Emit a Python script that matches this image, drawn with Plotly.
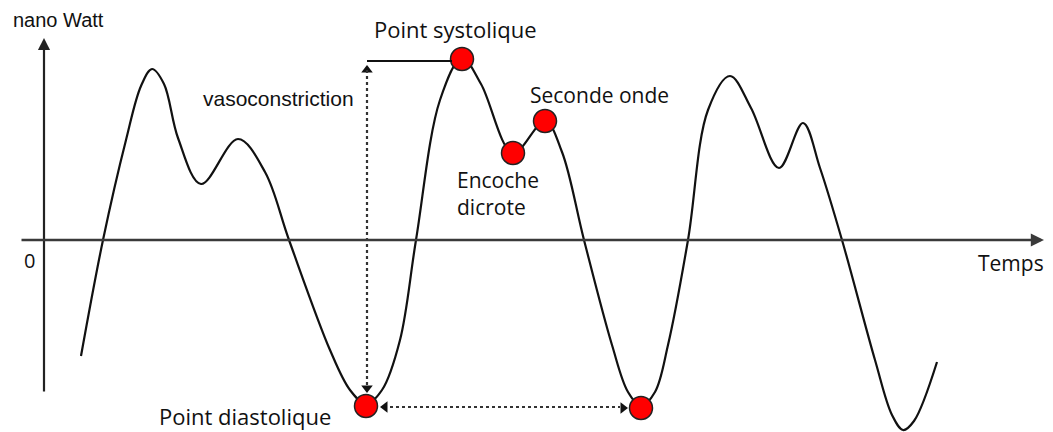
import plotly.graph_objects as go

# Waveform (pixel-like units: x right, y down)
wave_x = [81, 103, 126, 141, 152, 164, 178, 201, 238, 265, 289, 330, 350, 366, 382, 400, 416, 440, 462,
          481, 513, 545, 562, 584, 612, 628, 641, 655, 668, 688, 708, 730, 751, 779, 803, 820, 842,
          875, 892, 903, 914, 937]
wave_y = [356, 240, 140, 86, 69, 84, 138, 184, 139, 172, 240, 350, 390, 404, 390, 340, 240, 100, 58,
          84, 153, 121, 152, 240, 345, 392, 406, 392, 345, 240, 110, 76, 108, 168, 123, 168, 240,
          360, 415, 430, 421, 362]

# Key points (red dots)
pts_x = [462, 513, 545, 366, 641]
pts_y = [59, 153, 121, 406, 408]

fig = go.Figure()

fig.add_trace(go.Scatter(x=wave_x, y=wave_y, mode="lines",
                         line=dict(color="#111111", width=2.2, shape="spline", smoothing=1.0),
                         hoverinfo="skip", showlegend=False))

# dotted measurement lines
fig.add_shape(type="line", x0=367, y0=70, x1=367, y1=386, line=dict(color="#333333", width=2.2, dash="dot"))
fig.add_shape(type="line", x0=390, y0=407, x1=620, y1=407, line=dict(color="#333333", width=2.2, dash="dot"))
# solid horizontal from systolic level
fig.add_shape(type="line", x0=367, y0=61, x1=452, y1=61, line=dict(color="#111111", width=2.2))

# arrowheads for dotted arrows
fig.add_trace(go.Scatter(x=[367], y=[70], mode="markers", marker=dict(symbol="triangle-up", size=10, color="#111111"),
                         hoverinfo="skip", showlegend=False))
fig.add_trace(go.Scatter(x=[367], y=[388], mode="markers", marker=dict(symbol="triangle-down", size=10, color="#111111"),
                         hoverinfo="skip", showlegend=False))
fig.add_trace(go.Scatter(x=[385], y=[407], mode="markers", marker=dict(symbol="triangle-left", size=10, color="#111111"),
                         hoverinfo="skip", showlegend=False))
fig.add_trace(go.Scatter(x=[623], y=[408], mode="markers", marker=dict(symbol="triangle-right", size=10, color="#111111"),
                         hoverinfo="skip", showlegend=False))

# red dots
fig.add_trace(go.Scatter(x=pts_x, y=pts_y, mode="markers",
                         marker=dict(size=23, color="#ff0000", line=dict(color="#222222", width=1.5)),
                         hoverinfo="skip", showlegend=False))

# axes with arrows
fig.add_annotation(x=44, y=38, ax=44, ay=393, xref="x", yref="y", axref="x", ayref="y", text="",
                   showarrow=True, arrowhead=2, arrowsize=1.1, arrowwidth=2.2, arrowcolor="#222222")
fig.add_annotation(x=1044, y=240, ax=20, ay=240, xref="x", yref="y", axref="x", ayref="y", text="",
                   showarrow=True, arrowhead=2, arrowsize=1.1, arrowwidth=2.4, arrowcolor="#3a3a3a")

arial = "Liberation Sans, Arial, sans-serif"
cal = "Open Sans, sans-serif"

def label(x, y, text, font, size, anchor="left"):
    fig.add_annotation(x=x, y=y, xref="x", yref="y", text=text, showarrow=False,
                       xanchor=anchor, yanchor="middle", align="left",
                       font=dict(family=font, size=size, color="#111111"))

label(11, 20, "nano Watt", arial, 20)
label(201, 98, "vasoconstriction", arial, 21)
label(22, 260, "0", cal, 20)
label(976, 263, "Temps", cal, 21)
label(372, 29, "Point systolique", cal, 22)
label(528, 95, "Seconde onde", cal, 21)
label(455, 193, "Encoche<br>dicrote", cal, 21)
label(157, 416, "Point diastolique", cal, 22)

fig.update_layout(width=1053, height=432, margin=dict(l=0, r=0, t=0, b=0),
                  paper_bgcolor="white", plot_bgcolor="white",
                  xaxis=dict(range=[0, 1053], visible=False, fixedrange=True),
                  yaxis=dict(range=[432, 0], visible=False, fixedrange=True))

fig.write_html("out.html", config={"displayModeBar": False},
               post_script="document.body.style.margin='0';document.body.style.overflow='hidden';")
